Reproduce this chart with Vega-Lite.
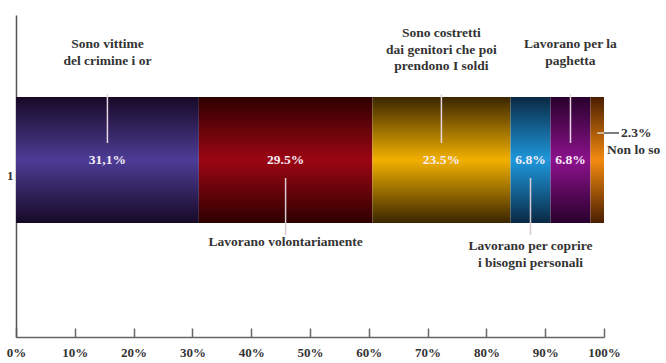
{
  "$schema": "https://vega.github.io/schema/vega-lite/v6.json",
  "width": 588,
  "height": 322,
  "autosize": {"type": "none"},
  "padding": {"left": 16, "top": 15, "right": 62, "bottom": 26},
  "background": "white",
  "config": {
    "view": {"stroke": null},
    "font": "Liberation Serif",
    "text": {"font": "Liberation Serif"},
    "axisX": {"grid": false, "title": null}
  },
  "data": {
    "values": [
      {"gruppo": "1", "ordine": 1, "value": 31.1, "label": "31,1%", "desc": "Sono vittime\ndel crimine i or"},
      {"gruppo": "1", "ordine": 2, "value": 29.5, "label": "29.5%", "desc": "Lavorano volontariamente"},
      {"gruppo": "1", "ordine": 3, "value": 23.5, "label": "23.5%", "desc": "Sono costretti\ndai genitori che poi\nprendono I soldi"},
      {"gruppo": "1", "ordine": 4, "value": 6.8, "label": "6.8%", "desc": "Lavorano per coprire\ni bisogni personali"},
      {"gruppo": "1", "ordine": 5, "value": 6.8, "label": "6.8%", "desc": "Lavorano per la\npaghetta"},
      {"gruppo": "1", "ordine": 6, "value": 2.3, "label": "2.3%", "desc": "Non lo so"}
    ]
  },
  "transform": [
    {"stack": "value", "groupby": ["gruppo"], "sort": [{"field": "ordine", "order": "ascending"}], "as": ["x0", "x1"]},
    {"calculate": "(datum.x0 + datum.x1) / 2", "as": "mid"}
  ],
  "encoding": {
    "y": {
      "field": "gruppo",
      "type": "nominal",
      "title": null,
      "axis": {
        "domain": true,
        "domainColor": "#555555",
        "domainWidth": 1.5,
        "ticks": false,
        "labelPadding": 3,
        "labelFont": "Liberation Serif",
        "labelFontWeight": "bold",
        "labelFontSize": 13,
        "labelColor": "#333333",
        "labelAngle": 0
      }
    }
  },
  "layer": [
    {
      "transform": [{"filter": "datum.ordine == 1"}],
      "mark": {"type": "bar", "height": 126, "yOffset": -16, "fill": {"gradient": "linear", "x1": 0, "y1": 0, "x2": 0, "y2": 1, "stops": [{"offset": 0, "color": "#170926"}, {"offset": 0.5, "color": "#4d3d96"}, {"offset": 1, "color": "#170926"}]}},
      "encoding": {
        "x": {
          "field": "x0", "type": "quantitative", "title": null,
          "scale": {"domain": [0, 100], "nice": false, "zero": true},
          "axis": {
            "values": [0, 10, 20, 30, 40, 50, 60, 70, 80, 90, 100],
            "labelExpr": "datum.value + '%'",
            "tickSize": -9,
            "tickColor": "#666666",
            "tickWidth": 1.5,
            "domainColor": "#666666",
            "domainWidth": 1.5,
            "labelPadding": 18,
            "labelFont": "Liberation Serif",
            "labelFontWeight": "bold",
            "labelFontSize": 13,
            "labelColor": "#333333",
            "labelFlush": false
          }
        },
        "x2": {"field": "x1"}
      }
    },
    {
      "transform": [{"filter": "datum.ordine == 2"}],
      "mark": {"type": "bar", "height": 126, "yOffset": -16, "fill": {"gradient": "linear", "x1": 0, "y1": 0, "x2": 0, "y2": 1, "stops": [{"offset": 0, "color": "#2e0000"}, {"offset": 0.5, "color": "#9c0612"}, {"offset": 1, "color": "#2e0000"}]}},
      "encoding": {"x": {"field": "x0", "type": "quantitative", "title": null}, "x2": {"field": "x1"}}
    },
    {
      "transform": [{"filter": "datum.ordine == 3"}],
      "mark": {"type": "bar", "height": 126, "yOffset": -16, "fill": {"gradient": "linear", "x1": 0, "y1": 0, "x2": 0, "y2": 1, "stops": [{"offset": 0, "color": "#3a2600"}, {"offset": 0.5, "color": "#f2b000"}, {"offset": 1, "color": "#3a2600"}]}},
      "encoding": {"x": {"field": "x0", "type": "quantitative", "title": null}, "x2": {"field": "x1"}}
    },
    {
      "transform": [{"filter": "datum.ordine == 4"}],
      "mark": {"type": "bar", "height": 126, "yOffset": -16, "fill": {"gradient": "linear", "x1": 0, "y1": 0, "x2": 0, "y2": 1, "stops": [{"offset": 0, "color": "#0a2944"}, {"offset": 0.5, "color": "#1e98dc"}, {"offset": 1, "color": "#0a2944"}]}},
      "encoding": {"x": {"field": "x0", "type": "quantitative", "title": null}, "x2": {"field": "x1"}}
    },
    {
      "transform": [{"filter": "datum.ordine == 5"}],
      "mark": {"type": "bar", "height": 126, "yOffset": -16, "fill": {"gradient": "linear", "x1": 0, "y1": 0, "x2": 0, "y2": 1, "stops": [{"offset": 0, "color": "#28002c"}, {"offset": 0.5, "color": "#8c128c"}, {"offset": 1, "color": "#28002c"}]}},
      "encoding": {"x": {"field": "x0", "type": "quantitative", "title": null}, "x2": {"field": "x1"}}
    },
    {
      "transform": [{"filter": "datum.ordine == 6"}],
      "mark": {"type": "bar", "height": 126, "yOffset": -16, "fill": {"gradient": "linear", "x1": 0, "y1": 0, "x2": 0, "y2": 1, "stops": [{"offset": 0, "color": "#4a1e00"}, {"offset": 0.5, "color": "#f38a10"}, {"offset": 1, "color": "#4a1e00"}]}},
      "encoding": {"x": {"field": "x0", "type": "quantitative", "title": null}, "x2": {"field": "x1"}}
    },
    {
      "transform": [{"filter": "datum.ordine == 1 || datum.ordine == 3 || datum.ordine == 5"}],
      "mark": {"type": "tick", "size": 49, "thickness": 1.5, "yOffset": -57.5, "color": "#e6d6e2", "opacity": 1},
      "encoding": {"x": {"field": "mid", "type": "quantitative", "title": null}}
    },
    {
      "transform": [{"filter": "datum.ordine == 2 || datum.ordine == 4"}],
      "mark": {"type": "tick", "size": 57, "thickness": 1.5, "yOffset": 30.5, "color": "#d9c9d3", "opacity": 1},
      "encoding": {"x": {"field": "mid", "type": "quantitative", "title": null}}
    },
    {
      "transform": [{"filter": "datum.ordine == 6"}],
      "mark": {"type": "rule", "yOffset": -43, "x2Offset": 15, "color": "#555555", "strokeWidth": 1.5},
      "encoding": {"x": {"field": "mid", "type": "quantitative", "title": null}, "x2": {"field": "x1"}}
    },
    {
      "transform": [{"filter": "datum.ordine == 6"}],
      "mark": {"type": "rule", "yOffset": -43, "color": "#f6d6a8", "strokeWidth": 1.5},
      "encoding": {"x": {"field": "mid", "type": "quantitative", "title": null}, "x2": {"field": "x1"}}
    },
    {
      "transform": [{"filter": "datum.ordine <= 5"}],
      "mark": {"type": "text", "dy": -16, "align": "center", "baseline": "middle", "fontWeight": "bold", "fontSize": 13.5, "color": "#f6ecf6"},
      "encoding": {"x": {"field": "mid", "type": "quantitative", "title": null}, "text": {"field": "label"}}
    },
    {
      "transform": [{"filter": "datum.ordine == 1 || datum.ordine == 5"}],
      "mark": {"type": "text", "dy": -132, "align": "center", "baseline": "middle", "fontWeight": "bold", "fontSize": 13.5, "lineHeight": 16.5, "lineBreak": "\n", "color": "#333333"},
      "encoding": {"x": {"field": "mid", "type": "quantitative", "title": null}, "text": {"field": "desc"}}
    },
    {
      "transform": [{"filter": "datum.ordine == 3"}],
      "mark": {"type": "text", "dy": -143, "align": "center", "baseline": "middle", "fontWeight": "bold", "fontSize": 13.5, "lineHeight": 16.5, "lineBreak": "\n", "color": "#333333"},
      "encoding": {"x": {"field": "mid", "type": "quantitative", "title": null}, "text": {"field": "desc"}}
    },
    {
      "transform": [{"filter": "datum.ordine == 2"}],
      "mark": {"type": "text", "dy": 66, "align": "center", "baseline": "middle", "fontWeight": "bold", "fontSize": 13.5, "lineHeight": 16.5, "lineBreak": "\n", "color": "#333333"},
      "encoding": {"x": {"field": "mid", "type": "quantitative", "title": null}, "text": {"field": "desc"}}
    },
    {
      "transform": [{"filter": "datum.ordine == 4"}],
      "mark": {"type": "text", "dy": 70, "align": "center", "baseline": "middle", "fontWeight": "bold", "fontSize": 13.5, "lineHeight": 16.5, "lineBreak": "\n", "color": "#333333"},
      "encoding": {"x": {"field": "mid", "type": "quantitative", "title": null}, "text": {"field": "desc"}}
    },
    {
      "transform": [{"filter": "datum.ordine == 6"}],
      "mark": {"type": "text", "dx": 17, "dy": -43, "align": "left", "baseline": "middle", "fontWeight": "bold", "fontSize": 13.5, "color": "#333333"},
      "encoding": {"x": {"field": "x1", "type": "quantitative", "title": null}, "text": {"field": "label"}}
    },
    {
      "transform": [{"filter": "datum.ordine == 6"}],
      "mark": {"type": "text", "dx": 3, "dy": -26, "align": "left", "baseline": "middle", "fontWeight": "bold", "fontSize": 13.5, "color": "#333333"},
      "encoding": {"x": {"field": "x1", "type": "quantitative", "title": null}, "text": {"field": "desc"}}
    }
  ]
}
